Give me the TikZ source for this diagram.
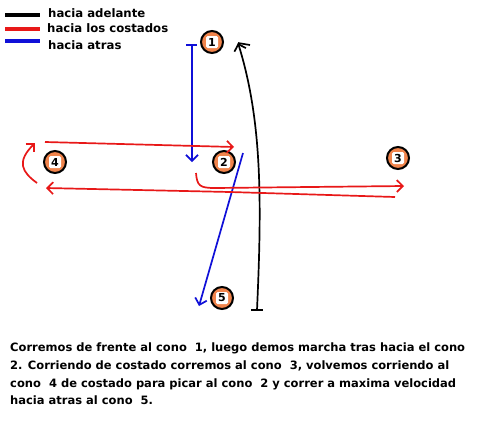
\documentclass[tikz,border=0pt]{standalone}
\usepackage{fontspec}
\setmainfont{Liberation Sans}
\newfontfamily\heavy{DejaVu Sans Bold}
\usetikzlibrary{arrows.meta}
\definecolor{conefill}{HTML}{F0844C}
\definecolor{myred}{HTML}{E81818}
\definecolor{myblue}{HTML}{1010D8}
\begin{document}
\begin{tikzpicture}[x=1pt,y=-1pt,
  cone/.style={circle,draw=black,line width=2pt,fill=conefill,minimum size=22pt,inner sep=0pt,
    label={[fill=white,rounded corners=1.5pt,inner sep=0.5pt,font=\heavy\fontsize{11}{11}\selectfont,minimum width=12pt,minimum height=12pt]center:#1}},
  leg/.style={line width=3.5pt},
  legtext/.style={anchor=west,font=\heavy\fontsize{11.7}{11.7}\selectfont,inner sep=0pt},
  redl/.style={draw=myred,line width=1.7pt},
  bluel/.style={draw=myblue,line width=1.7pt},
  tip/.style={-{Straight Barb[length=6pt,width=12pt]}},
  para/.style={anchor=north west,align=left,inner sep=0pt,font=\heavy\fontsize{11.5}{17.8}\selectfont}
]
\useasboundingbox (0,0) rectangle (481,434);
\fill[white] (0,0) rectangle (481,434);

% legend
\coordinate (l1a) at (5,15); \coordinate (l1b) at (40,15);
\coordinate (l2a) at (5,29); \coordinate (l2b) at (40,29);
\coordinate (l3a) at (5,41); \coordinate (l3b) at (40,41);
\draw[leg,black] (l1a) -- (l1b);
\draw[leg,myred] (l2a) -- (l2b);
\draw[leg,myblue] (l3a) -- (l3b);
\node[legtext] (t1) at (48,13) {hacia adelante};
\node[legtext] (t2) at (47,28) {hacia los costados};
\node[legtext] (t3) at (48,45) {hacia atras};

% cones
\node[cone=1] (c1) at (212,42) {};
\node[cone=2] (c2) at (224,162) {};
\node[cone=3] (c3) at (398,158) {};
\node[cone=4] (c4) at (55,162) {};
\node[cone=5] (c5) at (222,298) {};

% black forward curve
\coordinate (kb) at (257,310);
\coordinate (kt) at (238,43);
\coordinate (kbl) at (251,310); \coordinate (kbr) at (263,310);
\coordinate (ktr) at (250,45);
\draw[line width=1.7pt] (kbl) -- (kbr);
\draw[line width=1.7pt,tip] (kb) .. controls (262,200) and (262,120) .. (kt);
\draw[line width=1.7pt] (kt) -- (ktr);

% blue backward lines
\coordinate (b1t) at (192,45); \coordinate (b1b) at (192,162);
\coordinate (b1l) at (186,45); \coordinate (b1r) at (197,45);
\draw[bluel] (b1l) -- (b1r);
\draw[bluel,tip] (b1t) -- (b1b);
\coordinate (b2t) at (243,153); \coordinate (b2b) at (199,306);
\draw[bluel,tip] (b2t) -- (b2b);

% red sideways lines
\coordinate (r1a) at (45,142); \coordinate (r1b) at (234,147);
\draw[redl,tip] (r1a) -- (r1b);
\coordinate (r2a) at (196,173); \coordinate (r2b) at (404,186);
\draw[redl,tip] (r2a) .. controls (197,186) and (200,188) .. (215,188) -- (r2b);
\coordinate (r3a) at (395,197); \coordinate (r3b) at (46,188);
\draw[redl,tip] (r3a) -- (230,192) -- (r3b);
\coordinate (r4a) at (37,183); \coordinate (r4b) at (35,143);
\draw[redl,tip] (r4a) .. controls (22,172) and (16,162) .. (r4b);

% paragraph
\node[para] (txt) at (10,342.5) {Corremos de frente al cono\ \ 1, luego demos marcha tras hacia el cono\\
2. Corriendo de costado corremos al cono\ \ 3, volvemos corriendo al\\
cono\ \ 4 de costado para picar al cono\ \ 2 y correr a maxima velocidad\\
hacia atras al cono\ \ 5.};
\end{tikzpicture}
\end{document}
